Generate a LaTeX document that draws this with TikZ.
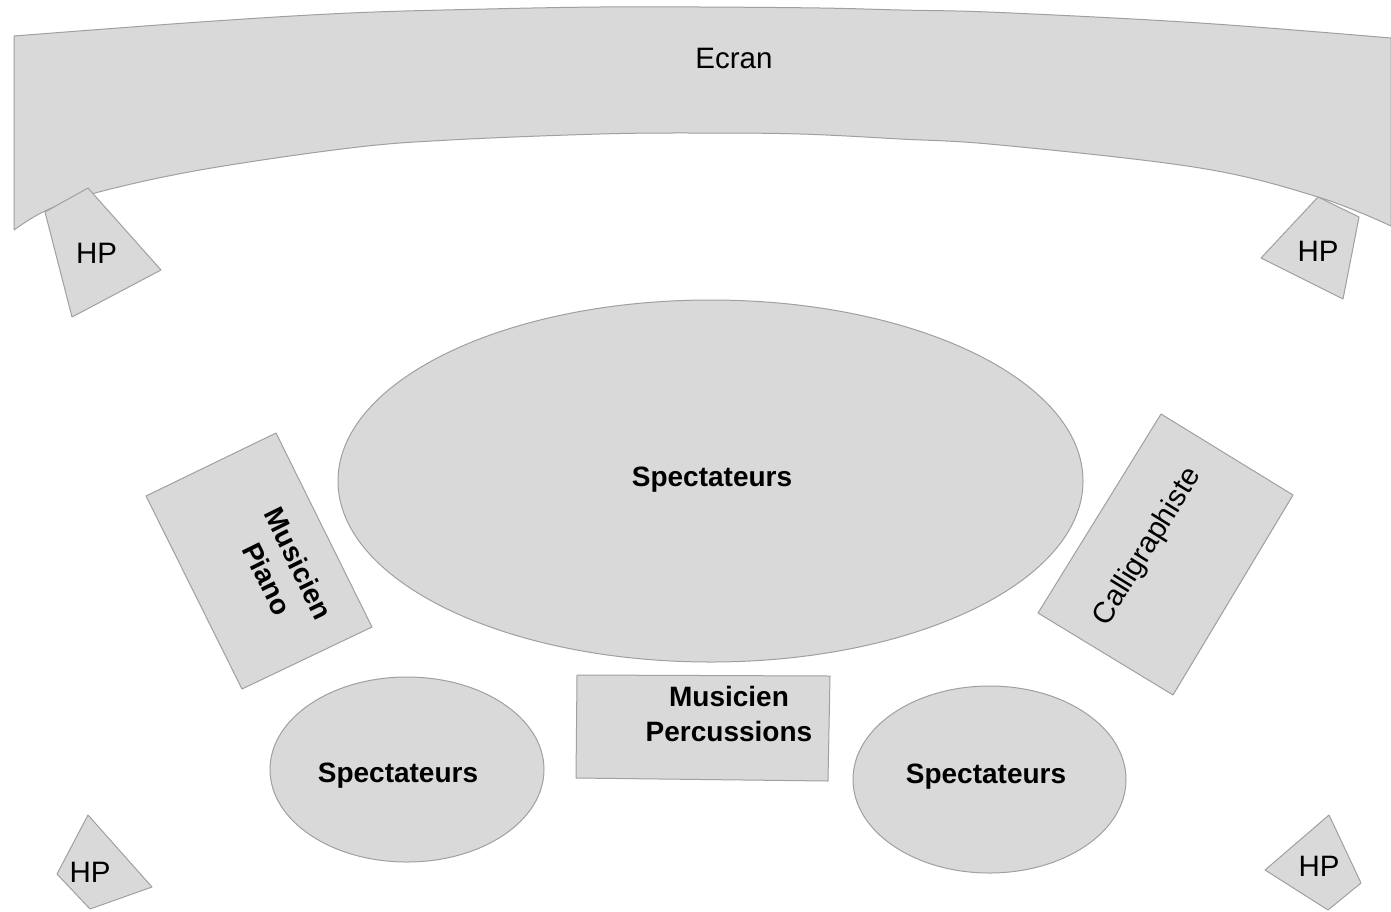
\documentclass[tikz,border=0pt]{standalone}
\usepackage{fontspec}
\setmainfont{Liberation Sans}
\usetikzlibrary{shapes.geometric}
\definecolor{fillg}{RGB}{217,217,217}
\definecolor{lineg}{RGB}{160,160,160}
\begin{document}
\begin{tikzpicture}[x=1pt,y=-1pt,
  zone/.style={fill=fillg,draw=lineg,line width=1pt,line join=round},
  oval/.style={zone,ellipse,inner sep=0pt},
  lab/.style={font=\fontsize{29.5}{34}\selectfont,inner sep=0pt,align=center},
  blab/.style={font=\fontsize{28}{35}\selectfont\bfseries,inner sep=0pt,align=center}]
\useasboundingbox (0,0) rectangle (1391,911);

% Ecran band
\draw[zone] (14,36) -- plot[smooth,tension=0.6] coordinates {(14,36) (200,22) (350,13) (487,9) (600,7) (700,7) (820,8) (900,10) (1000,12.5) (1200,23) (1391,38)}
  -- (1391,226) -- plot[smooth,tension=0.6] coordinates {(1391,226) (1318,197) (1200,168) (1000,145) (900,139) (800,134) (700,133) (600,134) (450,140) (350,148) (200,170) (95,193) (45,211) (14,230)} -- cycle;
\node[lab] (ecran) at (734,58) {Ecran};

% loudspeakers
\draw[zone] (45,212) -- (88,188) -- (161,270) -- (72,317) -- cycle;
\node[lab] (hp1) at (96.5,253) {HP};
\draw[zone] (1318,197) -- (1359,217) -- (1343,299) -- (1261,258) -- cycle;
\node[lab] (hp2) at (1318,251) {HP};
\draw[zone] (88,815) -- (152,887) -- (90,909) -- (57,874) -- cycle;
\node[lab] (hp3) at (90,872.5) {HP};
\draw[zone] (1329,815) -- (1361,883) -- (1328,910) -- (1265,870) -- cycle;
\node[lab] (hp4) at (1319,866) {HP};

% audience
\node[oval,minimum width=745pt,minimum height=362pt] (spec) at (710.5,481) {};
\node[blab] (spect) at (712,480) {Spectateurs};
\node[oval,minimum width=274pt,minimum height=185pt] (specl) at (407,769.5) {};
\node[blab] (speclt) at (398,776) {Spectateurs};
\node[oval,minimum width=273pt,minimum height=187pt] (specr) at (989.5,779.5) {};
\node[blab] (specrt) at (986,777) {Spectateurs};

% musicians
\draw[zone] (146,496) -- (276,433) -- (372,627) -- (242,689) -- cycle;
\node[blab,rotate=-63.7] (piano) at (283,571) {Musicien\\Piano};
\draw[zone] (577,675) -- (830,676) -- (828,781) -- (576,778) -- cycle;
\node[blab] (perc) at (729,714) {Musicien\\Percussions};

% calligrapher
\draw[zone] (1161,414) -- (1293,495) -- (1173,695) -- (1038,613) -- cycle;
\node[lab,rotate=58.3] (calli) at (1148,547) {Calligraphiste};
\end{tikzpicture}
\end{document}
